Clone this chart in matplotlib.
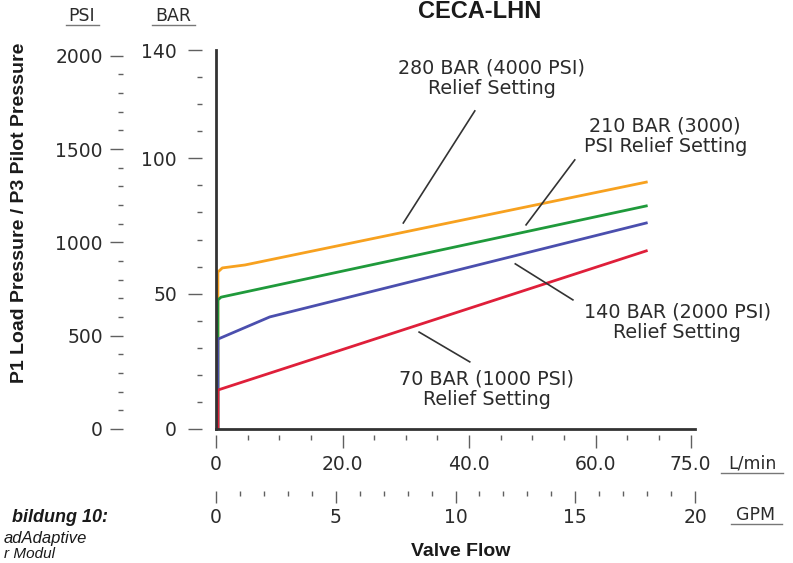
import matplotlib
matplotlib.use("Agg")
import matplotlib.pyplot as plt
from matplotlib.lines import Line2D

# curve data: x in L/min, y in bar
x_70 = [0.3, 0.3, 68.0]
y_70 = [0.0, 14.4, 65.8]
x_140 = [0.3, 0.3, 8.5, 68.0]
y_140 = [0.0, 33.2, 41.4, 76.1]
x_210 = [0.3, 0.3, 0.8, 68.0]
y_210 = [0.0, 47.7, 48.7, 82.4]
x_280 = [0.3, 0.3, 1.0, 4.6, 68.0]
y_280 = [0.0, 58.0, 59.5, 60.6, 91.2]

# labels for each curve and their leader lines (data coords)
lbl_280 = "280 BAR (4000 PSI)\nRelief Setting"
lbl_210 = "210 BAR (3000)\nPSI Relief Setting"
lbl_140 = "140 BAR (2000 PSI)\nRelief Setting"
lbl_70 = "70 BAR (1000 PSI)\nRelief Setting"
lbl_pos = [(43.6, 129.6), (71.0, 108.2), (72.9, 39.5), (42.8, 14.8)]
leader_x = [(40.9, 29.6), (56.7, 49.0), (47.3, 56.4), (32.1, 40.1)]
leader_y = [(117.5, 76.1), (99.4, 75.4), (61.0, 47.7), (35.8, 24.8)]

lmin_ticks = [0, 20, 40, 60, 75]
lmin_labels = ["0", "20.0", "40.0", "60.0", "75.0"]
gpm_ticks = [0, 5, 10, 15, 20]
psi_ticks = [0, 500, 1000, 1500, 2000]
bar_ticks = [0, 50, 100, 140]

BAR_TO_PSI = 14.5038
W, H = 793, 563
txt = "#2b2b2b"
tickc = "#606060"

fig = plt.figure(figsize=(W / 100, H / 100), dpi=100)
rect = [216 / W, (H - 429) / H, (695 - 216) / W, (429 - 50) / H]
ax = fig.add_axes(rect)
ax.set_xlim(0, 75.7)
ax.set_ylim(0, 140)
for s in ["top", "right"]:
    ax.spines[s].set_visible(False)
for s in ["left", "bottom"]:
    ax.spines[s].set_color("#333333")
    ax.spines[s].set_linewidth(2.0)
ax.set_xticks([])
ax.set_yticks([])

# curves (red on top)
ax.plot(x_280, y_280, color="#f7a11f", lw=2.0, solid_joinstyle="round")
ax.plot(x_210, y_210, color="#1f9a3b", lw=2.0, solid_joinstyle="round")
ax.plot(x_140, y_140, color="#4b4fae", lw=2.0, solid_joinstyle="round")
ax.plot(x_70, y_70, color="#df1f3a", lw=2.0, solid_joinstyle="round")

for lbl, (tx, ty), lx, ly in zip([lbl_280, lbl_210, lbl_140, lbl_70], lbl_pos, leader_x, leader_y):
    ax.plot(lx, ly, color="#333333", lw=1.2)
    ax.text(tx, ty, lbl, ha="center", va="center", fontsize=13.8, color=txt,
            linespacing=1.1, clip_on=False)

# L/min row
ax_l = ax.twiny()
ax_l.set_xlim(0, 75.7)
for s in ax_l.spines.values():
    s.set_visible(False)
ax_l.xaxis.set_ticks_position("bottom")
ax_l.xaxis.set_label_position("bottom")
ax_l.spines["bottom"].set_position(("outward", 4.5))
ax_l.set_xticks(lmin_ticks)
ax_l.set_xticklabels(lmin_labels)
ax_l.set_xticks([v for v in range(5, 75, 5) if v not in lmin_ticks], minor=True)
ax_l.tick_params(axis="x", which="major", length=9.5, width=1.0, color=tickc, pad=4.5, labelsize=13.5, labelcolor=txt)
ax_l.tick_params(axis="x", which="minor", length=3.5, width=1.0, color=tickc)

# GPM row
ax_g = ax.twiny()
ax_g.set_xlim(0, 20)
for s in ax_g.spines.values():
    s.set_visible(False)
ax_g.xaxis.set_ticks_position("bottom")
ax_g.xaxis.set_label_position("bottom")
ax_g.spines["bottom"].set_position(("outward", 44.5))
ax_g.set_xticks(gpm_ticks)
ax_g.set_xticks([v for v in range(1, 20) if v not in gpm_ticks], minor=True)
ax_g.tick_params(axis="x", which="major", length=8.5, width=1.0, color=tickc, pad=4, labelsize=13.5, labelcolor=txt)
ax_g.tick_params(axis="x", which="minor", length=3.5, width=1.0, color=tickc)

# PSI column
ax_p = ax.twinx()
ax_p.set_ylim(0, 140 * BAR_TO_PSI)
for s in ax_p.spines.values():
    s.set_visible(False)
ax_p.yaxis.set_ticks_position("left")
ax_p.yaxis.set_label_position("left")
ax_p.spines["left"].set_position(("outward", 67))
ax_p.set_yticks(psi_ticks)
ax_p.set_yticks([v for v in range(100, 2001, 100) if v not in psi_ticks], minor=True)
ax_p.tick_params(axis="y", which="major", length=9.5, width=1.0, color=tickc, pad=5, labelsize=13.5, labelcolor=txt)
ax_p.tick_params(axis="y", which="minor", length=3.5, width=1.0, color=tickc)

# BAR column
ax_b = ax.twinx()
ax_b.set_ylim(0, 140)
for s in ax_b.spines.values():
    s.set_visible(False)
ax_b.yaxis.set_ticks_position("left")
ax_b.yaxis.set_label_position("left")
ax_b.spines["left"].set_position(("outward", 10))
ax_b.set_yticks(bar_ticks)
ax_b.set_yticks([v for v in range(10, 140, 10) if v not in bar_ticks], minor=True)
ax_b.tick_params(axis="y", which="major", length=10, width=1.0, color=tickc, pad=8, labelsize=13.5, labelcolor=txt)
ax_b.tick_params(axis="y", which="minor", length=3.5, width=1.0, color=tickc)


def fx(px):
    return px / W


def fy(py):
    return 1 - py / H


def underlined(px, py, s, x0, x1, size=12.5):
    fig.text(fx(px), fy(py), s, ha="center", va="center", fontsize=size, color=txt)
    fig.add_artist(Line2D([fx(x0), fx(x1)], [fy(py + 9), fy(py + 9)], color="#777777", lw=1.0))


underlined(82, 16, "PSI", 66, 99)
underlined(173, 16, "BAR", 152, 195)
underlined(752, 464, "L/min", 721, 783)
underlined(756, 515, "GPM", 731, 782)

fig.text(fx(480), fy(11), "CECA-LHN", ha="center", va="center", fontsize=17,
         fontweight="bold", family="Liberation Sans", color="#1a1a1a")
fig.text(fx(20), fy(213), "P1 Load Pressure / P3 Pilot Pressure", rotation=90,
         ha="center", va="center", fontsize=14, fontweight="bold",
         family="Liberation Sans", color="#1a1a1a")
fig.text(fx(461), fy(551), "Valve Flow", ha="center", va="center", fontsize=14,
         fontweight="bold", family="Liberation Sans", color="#1a1a1a")

# caption fragment at the left edge
fig.text(fx(108), fy(517), "bildung 10:", ha="right", va="center", fontsize=13,
         fontweight="bold", style="italic", family="Liberation Sans", color="#1a1a1a")
fig.text(fx(4), fy(538), "adAdaptive", ha="left", va="center", fontsize=12,
         style="italic", family="Liberation Sans", color="#1a1a1a")
fig.text(fx(4), fy(554), "r Modul", ha="left", va="center", fontsize=11,
         style="italic", family="Liberation Sans", color="#1a1a1a")

fig.savefig("out.png", dpi=100)
